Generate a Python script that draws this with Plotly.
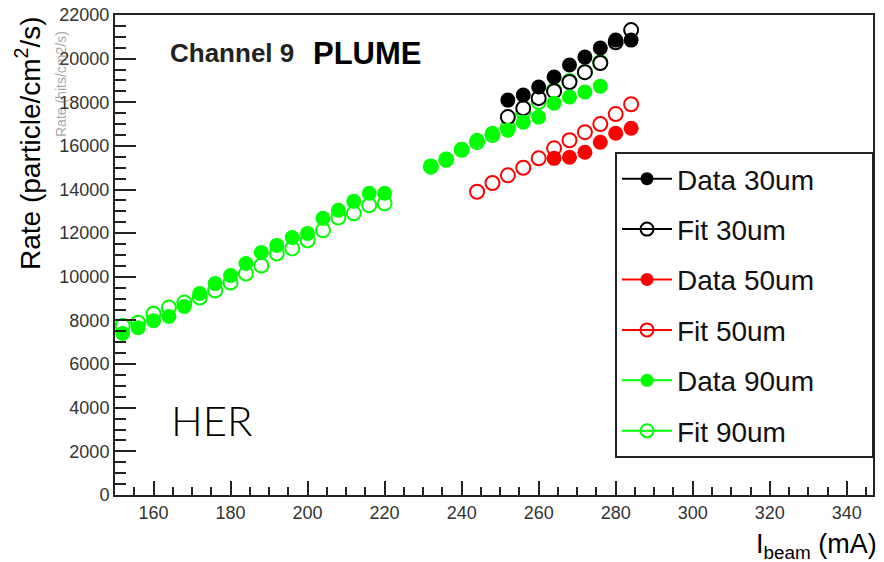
import plotly.graph_objects as go

# ---- data ----
x30_data = [252, 256, 260, 264, 268, 272, 276, 280, 284]
y30_data = [18100, 18330, 18700, 19160, 19710, 20070, 20490, 20850, 20850]
x30_fit = [252, 256, 260, 264, 268, 272, 276, 280, 284]
y30_fit = [17320, 17730, 18190, 18510, 18930, 19380, 19800, 20750, 21310]

x50_data = [264, 268, 272, 276, 280, 284]
y50_data = [15430, 15480, 15710, 16170, 16580, 16810]
x50_fit = [244, 248, 252, 256, 260, 264, 268, 272, 276, 280, 284]
y50_fit = [13900, 14300, 14650, 15000, 15430, 15890, 16260, 16630, 17000, 17460, 17910]

x90 = [152, 156, 160, 164, 168, 172, 176, 180, 184, 188, 192, 196, 200, 204, 208, 212, 216, 220,
       232, 236, 240, 244, 248, 252, 256, 260, 264, 268, 272, 276]
y90_data = [7400, 7670, 7990, 8180, 8640, 9230, 9690, 10060, 10610, 11120, 11440, 11800, 11990,
            12680, 13050, 13460, 13830, 13830,
            15020, 15340, 15850, 16260, 16580, 16720, 17090, 17320, 17960, 18240, 18470, 18740]
y90_fit = [7760, 7900, 8310, 8590, 8820, 9050, 9370, 9740, 10150, 10520, 11070, 11300, 11670,
           12130, 12720, 12910, 13280, 13370,
           15060, 15380, 15820, 16180, 16500, 16860, 17550, 18010, 18560, 18970, 19380, 19840]

legend_names = ["Data 30um", "Fit 30um", "Data 50um", "Fit 50um", "Data 90um", "Fit 90um"]
BLACK, RED, GREEN = "#000000", "#ff0000", "#00ff00"
FONT = "Liberation Sans, Arial, Helvetica, sans-serif"

fig = go.Figure()

# fits (open, white interior) first
for xs, ys, c in [(x90, y90_fit, GREEN), (x50_fit, y50_fit, RED), (x30_fit, y30_fit, BLACK)]:
    fig.add_trace(go.Scatter(x=xs, y=ys, mode="markers", showlegend=False,
                             marker=dict(symbol="circle", size=14, color="white",
                                         line=dict(color=c, width=2))))
# data (filled) on top
for xs, ys, c in [(x30_data, y30_data, BLACK), (x50_data, y50_data, RED), (x90, y90_data, GREEN)]:
    fig.add_trace(go.Scatter(x=xs, y=ys, mode="markers", showlegend=False,
                             marker=dict(symbol="circle", size=15, color=c, line=dict(width=0))))

# legend-only entries (trailing no-break spaces widen the box like the reference)
PAD = "\u00a0" * 6 + "\u2009"
for name, c in zip(legend_names, [BLACK, BLACK, RED, RED, GREEN, GREEN]):
    is_fit = name.startswith("Fit")
    fig.add_trace(go.Scatter(
        x=[None], y=[None], mode="lines+markers", name=name + PAD, legendgroup=name,
        line=dict(color=c, width=2),
        marker=dict(symbol="circle-open" if is_fit else "circle", size=13, color=c,
                    line=dict(color=c, width=2 if is_fit else 0))))

axis_common = dict(showline=True, linewidth=2, linecolor="#222", mirror=True,
                   showgrid=False, zeroline=False, ticks="inside", tickwidth=2,
                   tickcolor="#222", tickfont=dict(family=FONT, size=18, color="#333"))

fig.update_layout(
    width=884, height=562,
    margin=dict(l=115, r=11, t=15, b=67, autoexpand=False),
    paper_bgcolor="white", plot_bgcolor="white",
    xaxis=dict(range=[150, 346.8], dtick=20, tick0=0, ticklen=14,
               minor=dict(dtick=5, tick0=0, ticks="inside", ticklen=8, tickwidth=2,
                          tickcolor="#222", showgrid=False),
               **axis_common),
    yaxis=dict(range=[0, 22000], dtick=2000, tick0=0, ticklen=21, tickformat="d",
               minor=dict(dtick=500, tick0=0, ticks="inside", ticklen=11, tickwidth=2,
                          tickcolor="#222", showgrid=False),
               **axis_common),
    legend=dict(x=(615 - 115) / 758, y=(495 - 152) / 480, xanchor="left", yanchor="top",
                bgcolor="white", bordercolor="#222", borderwidth=2,
                font=dict(family=FONT, size=28, color="#111"),
                tracegroupgap=11, itemwidth=50, traceorder="grouped"),
    showlegend=True,
)

annotations = [
    dict(text="Rate (particle/cm<sup>2</sup>/s)", x=28, y=143, textangle=-90,
         font=dict(family=FONT, size=28, color="black")),
    dict(text="Rate (hits/cm2/s)", x=61, y=84, textangle=-90,
         font=dict(family=FONT, size=14, color="rgba(90,90,90,0.55)")),
    dict(text="I<sub>beam</sub> (mA)", x=816, y=546,
         font=dict(family=FONT, size=27, color="black")),
    dict(text="<b>Channel 9</b>", x=232, y=53,
         font=dict(family=FONT, size=26, color="#222")),
    dict(text="<b>PLUME</b>", x=367, y=53,
         font=dict(family=FONT, size=31, color="black")),
    dict(text="HER", x=212, y=420,
         font=dict(family="Lato, Open Sans, sans-serif", size=42, color="black", weight=300)),
]
for a in annotations:
    fig.add_annotation(xref="paper", yref="paper",
                       x=(a["x"] - 115) / 758, y=(495 - a["y"]) / 480,
                       xanchor="center", yanchor="middle", showarrow=False,
                       text=a["text"], textangle=a.get("textangle", 0), font=a["font"])

fig.write_html("out.html")
